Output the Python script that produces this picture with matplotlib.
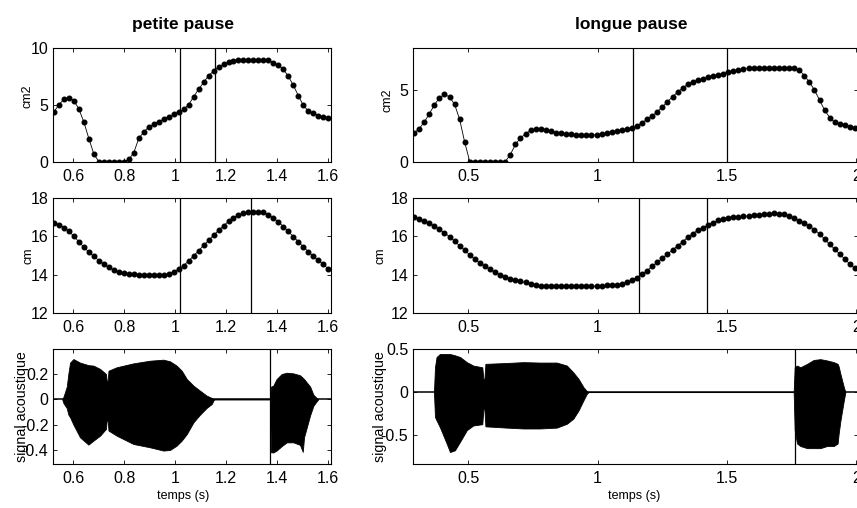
import numpy as np
import matplotlib
matplotlib.use("Agg")
import matplotlib.pyplot as plt

plt.rcParams['font.family'] = ['Liberation Sans', 'DejaVu Sans']
plt.rcParams['axes.unicode_minus'] = False

# ---------------- data ----------------
titles = ["petite pause", "longue pause"]
ylabels = ["cm2", "cm", "signal acoustique"]
xlabel = "temps (s)"

# sampling of articulatory parameters (frame start, frame step)
t0_left, t0_right, dt = 0.524, 0.290, 0.0196

area_left = [4.4, 5.0, 5.5, 5.6, 5.35, 4.6, 3.45, 2.0, 0.65, 0, 0, 0, 0, 0, 0,
             0.2, 0.8, 2.05, 2.6, 3.05, 3.3, 3.5, 3.75, 3.95, 4.15, 4.35, 4.6,
             5.0, 5.7, 6.35, 6.95, 7.55, 7.95, 8.3, 8.55, 8.75, 8.87, 8.93,
             8.95, 8.95, 8.95, 8.93, 8.9, 8.9, 8.7, 8.45, 8.1, 7.5, 6.7, 5.8,
             4.95, 4.45, 4.25, 4.05, 3.9, 3.8]
length_left = [16.68, 16.6, 16.45, 16.25, 16.0, 15.7, 15.43, 15.17, 14.95,
               14.74, 14.56, 14.38, 14.25, 14.16, 14.1, 14.06, 14.03, 14.0,
               13.99, 13.98, 13.98, 13.98, 13.99, 14.05, 14.15, 14.3, 14.48,
               14.72, 14.98, 15.25, 15.52, 15.78, 16.05, 16.3, 16.55, 16.77,
               16.97, 17.1, 17.2, 17.25, 17.28, 17.28, 17.25, 17.12, 16.95,
               16.74, 16.5, 16.25, 15.98, 15.72, 15.45, 15.2, 14.96, 14.75,
               14.55, 14.3]
area_right = [1.98, 2.3, 2.75, 3.33, 3.95, 4.45, 4.7, 4.52, 4.0, 2.95, 1.35,
              0, 0, 0, 0, 0, 0, 0, 0, 0.5, 1.2, 1.65, 1.95, 2.18, 2.27, 2.28,
              2.24, 2.14, 2.03, 1.98, 1.96, 1.91, 1.87, 1.86, 1.86, 1.86, 1.88,
              1.95, 2.0, 2.07, 2.12, 2.19, 2.26, 2.34, 2.5, 2.72, 2.96, 3.2,
              3.48, 3.82, 4.18, 4.53, 4.85, 5.14, 5.4, 5.58, 5.68, 5.78, 5.9,
              5.97, 6.05, 6.14, 6.24, 6.33, 6.38, 6.45, 6.5, 6.51, 6.51, 6.51,
              6.51, 6.51, 6.51, 6.51, 6.51, 6.5, 6.4, 6.0, 5.55, 5.0, 4.3, 3.6,
              3.08, 2.75, 2.64, 2.57, 2.45, 2.37]
length_right = [16.98, 16.88, 16.8, 16.68, 16.52, 16.35, 16.17, 15.98, 15.75,
                15.5, 15.27, 15.03, 14.8, 14.6, 14.44, 14.28, 14.13, 14.0, 13.9,
                13.8, 13.72, 13.66, 13.6, 13.52, 13.47, 13.43, 13.42, 13.41,
                13.4, 13.4, 13.4, 13.4, 13.4, 13.4, 13.4, 13.4, 13.41, 13.42,
                13.46, 13.47, 13.48, 13.52, 13.6, 13.72, 13.85, 14.02, 14.22,
                14.44, 14.65, 14.86, 15.07, 15.29, 15.5, 15.72, 15.94, 16.14,
                16.31, 16.44, 16.58, 16.7, 16.83, 16.92, 16.96, 17.0, 17.0,
                17.04, 17.05, 17.09, 17.12, 17.15, 17.17, 17.18, 17.17, 17.14,
                17.05, 16.93, 16.8, 16.68, 16.53, 16.34, 16.12, 15.86, 15.58,
                15.33, 15.07, 14.81, 14.55, 14.33]

# acoustic signal envelopes (time, upper, lower)
sigL_t = [0.556, 0.561, 0.574, 0.580, 0.587, 0.600, 0.626, 0.659, 0.679, 0.705,
          0.728, 0.731, 0.735, 0.738, 0.770, 0.836, 0.901, 0.954, 0.980, 1.006,
          1.026, 1.046, 1.072, 1.098, 1.124, 1.144, 1.153,
          1.373, 1.377, 1.386, 1.399, 1.419, 1.439, 1.465, 1.491, 1.502, 1.507,
          1.531, 1.544, 1.557, 1.563]
sigL_up = [0, 0.02, 0.1, 0.2, 0.29, 0.318, 0.29, 0.27, 0.266, 0.24, 0.2, 0.147,
           0.147, 0.226, 0.253, 0.284, 0.305, 0.313, 0.30, 0.266, 0.226, 0.16,
           0.108, 0.068, 0.029, 0.011, 0,
           0, 0.1, 0.108, 0.16, 0.2, 0.21, 0.205, 0.19, 0.17, 0.16, 0.1, 0.035,
           0.01, 0]
sigL_lo = [0, -0.03, -0.07, -0.12, -0.142, -0.2, -0.3, -0.358, -0.326, -0.287,
           -0.234, -0.168, -0.168, -0.247, -0.287, -0.353, -0.379, -0.405, -0.4,
           -0.366, -0.326, -0.274, -0.182, -0.121, -0.068, -0.037, 0,
           0, -0.418, -0.42, -0.405, -0.37, -0.34, -0.34, -0.36, -0.415, -0.3,
           -0.125, -0.05, -0.015, 0]

sigR_t = [0.367, 0.371, 0.377, 0.390, 0.416, 0.429, 0.448, 0.468, 0.494, 0.519,
          0.554, 0.558, 0.562, 0.566, 0.648, 0.713, 0.777, 0.842, 0.881, 0.906,
          0.926, 0.945, 0.958, 0.965,
          1.758, 1.762, 1.771, 1.784, 1.810, 1.835, 1.861, 1.887, 1.913, 1.928,
          1.932, 1.939, 1.952, 1.958]
sigR_up = [0, 0.29, 0.41, 0.445, 0.445, 0.445, 0.43, 0.41, 0.35, 0.31, 0.29,
           0.15, 0.15, 0.33, 0.34, 0.35, 0.345, 0.345, 0.31, 0.23, 0.155, 0.058,
           0.012, 0,
           0, 0.29, 0.31, 0.29, 0.33, 0.375, 0.385, 0.37, 0.35, 0.33, 0.3, 0.21,
           0.058, 0]
sigR_lo = [0, -0.29, -0.33, -0.41, -0.6, -0.7, -0.68, -0.58, -0.445, -0.39,
           -0.375, -0.2, -0.2, -0.4, -0.415, -0.425, -0.425, -0.415, -0.37,
           -0.31, -0.215, -0.097, -0.02, 0,
           0, -0.445, -0.6, -0.63, -0.655, -0.655, -0.655, -0.63, -0.63, -0.6,
           -0.485, -0.33, -0.097, 0]

# segmentation marks
marks_left = [[1.02, 1.155], [1.02, 1.30], [1.375]]
marks_right = [[1.138, 1.499], [1.160, 1.421], [1.763]]

xlim_left = (0.521, 1.613)
xlim_right = (0.286, 2.006)
xticks_left = [0.6, 0.8, 1.0, 1.2, 1.4, 1.6]
xticks_right = [0.5, 1.0, 1.5, 2.0]
ylims_left = [(0, 10), (12, 18), (-0.511, 0.395)]
ylims_right = [(0, 7.95), (12, 18), (-0.84, 0.5)]
yticks_left = [[0, 5, 10], [12, 14, 16, 18], [-0.4, -0.2, 0, 0.2]]
yticks_right = [[0, 5], [12, 14, 16, 18], [-0.5, 0, 0.5]]

# ---------------- figure ----------------
W, H = 857, 508
fig = plt.figure(figsize=(W / 100, H / 100), dpi=100)


def px_axes(x0, y0, x1, y1):
    return fig.add_axes([x0 / W, 1 - y1 / H, (x1 - x0) / W, (y1 - y0) / H])


rows = [(47.7, 161.7), (197.7, 313.3), (349.3, 464.0)]
cols = [(53.3, 331.0), (413.0, 857.8)]


def fmt(v):
    return "%g" % v


for c in range(2):
    x0, x1 = cols[c]
    for r in range(3):
        y0, y1 = rows[r]
        ax = px_axes(x0, y0, x1, y1)
        if c == 0:
            t = t0_left + dt * np.arange(len(area_left))
            series = [area_left, length_left]
            xlim, xt = xlim_left, xticks_left
            ylim, yt = ylims_left[r], yticks_left[r]
            marks = marks_left[r]
            st, su, sl = sigL_t, sigL_up, sigL_lo
        else:
            t = t0_right + dt * np.arange(len(area_right))
            series = [area_right, length_right]
            xlim, xt = xlim_right, xticks_right
            ylim, yt = ylims_right[r], yticks_right[r]
            marks = marks_right[r]
            st, su, sl = sigR_t, sigR_up, sigR_lo
        if r < 2:
            ax.plot(t, series[r], color='black', lw=0.6, marker='o', ms=3.3,
                    mec='black', mfc='black')
        else:
            ax.axhline(0, color='black', lw=1.1)
            ax.fill_between(st, sl, su, color='black', lw=0.6, edgecolor='black')
        for m in marks:
            ax.axvline(m, color='black', lw=0.9)
        ax.set_xlim(*xlim)
        ax.set_ylim(*ylim)
        ax.set_xticks(xt)
        ax.set_xticklabels([fmt(v) for v in xt])
        ax.set_yticks(yt)
        ax.set_yticklabels([fmt(v) for v in yt])
        ax.tick_params(direction='in', top=True, right=True, length=3,
                       width=0.6, labelsize=11.5, colors='black')
        ax.tick_params(axis='x', pad=5)
        ax.tick_params(axis='y', pad=3.5)
        for s in ax.spines.values():
            s.set_linewidth(0.8)
        ax.set_ylabel(ylabels[r], fontsize=(10.3 if r == 2 else 9))
        if c == 0:
            lx = [-0.073, -0.068, -0.086][r]
            ly = [0.57, 0.5, 0.5][r]
        else:
            lx = [-0.043, -0.060, -0.058][r]
            ly = [0.54, 0.5, 0.5][r]
        ax.yaxis.set_label_coords(lx, ly)

# titles and x labels
fig.text(183 / W, 1 - 24 / H, titles[0], ha='center', va='center',
         fontsize=12.5, fontweight='bold')
fig.text(631.5 / W, 1 - 24 / H, titles[1], ha='center', va='center',
         fontsize=12.5, fontweight='bold')
fig.text(183 / W, 1 - 496 / H, xlabel, ha='center', va='center', fontsize=9)
fig.text(634 / W, 1 - 496 / H, xlabel, ha='center', va='center', fontsize=9)

fig.savefig("out.png", dpi=100, facecolor='white')
